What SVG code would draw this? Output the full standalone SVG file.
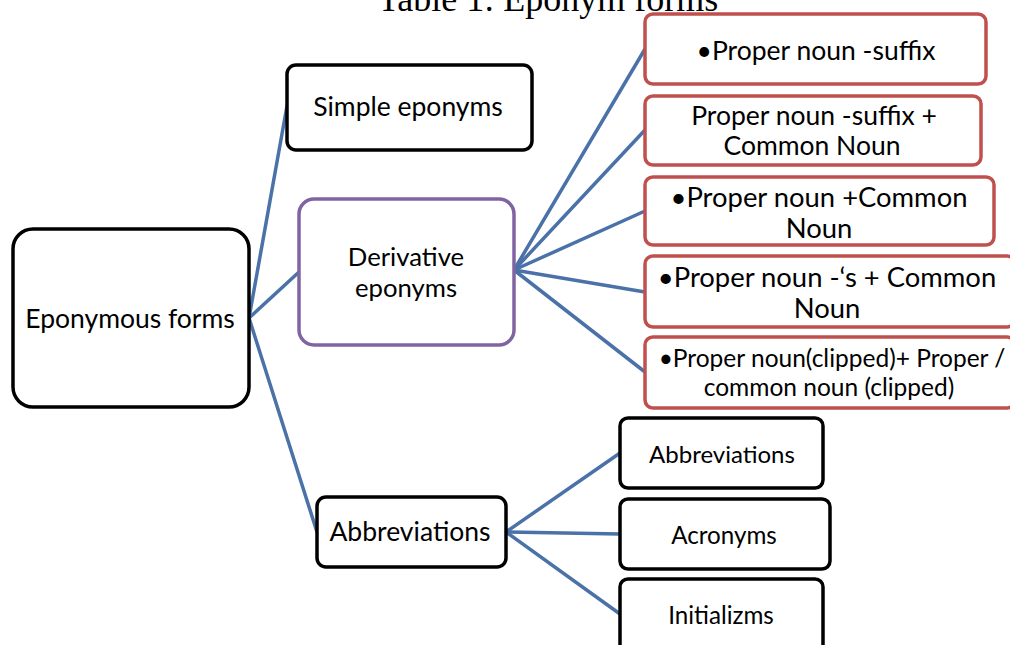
<svg xmlns="http://www.w3.org/2000/svg" width="1010" height="645" viewBox="0 0 1010 645">
<style>
.t{font-family:Lato,"Open Sans",sans-serif;fill:#000;text-anchor:middle;dominant-baseline:central}
.bk{fill:#fff;stroke:#000;stroke-width:3.5}
.rd{fill:#fff;stroke:#c0504d;stroke-width:3.5}
.pu{fill:#fff;stroke:#8064a2;stroke-width:3.5}
.ln{stroke:#4a72a8;stroke-width:3.5;fill:none;stroke-linecap:round}
</style>
<rect width="1010" height="645" fill="#fff"/>
<text x="548" y="11" style="font-family:'Liberation Serif',serif;font-size:36px;text-anchor:middle">Table 1: Eponym forms</text>
<g id="connectors">
<line class="ln" x1="249" y1="318" x2="287" y2="106"/>
<line class="ln" x1="249" y1="318" x2="299" y2="272"/>
<line class="ln" x1="249" y1="318" x2="317" y2="532"/>
<line class="ln" x1="514" y1="270" x2="645" y2="49"/>
<line class="ln" x1="514" y1="270" x2="645" y2="130"/>
<line class="ln" x1="514" y1="270" x2="645" y2="211"/>
<line class="ln" x1="514" y1="270" x2="645" y2="292"/>
<line class="ln" x1="514" y1="270" x2="645" y2="372"/>
<line class="ln" x1="506" y1="532" x2="620" y2="453"/>
<line class="ln" x1="506" y1="532" x2="620" y2="534"/>
<line class="ln" x1="506" y1="532" x2="620" y2="614"/>
</g>
<g id="eponymous">
<rect class="bk" x="13" y="229" width="236" height="178" rx="20"/>
<text class="t" x="130" y="318" style="font-size:26.5px">Eponymous forms</text>
</g>
<g id="simple">
<rect class="bk" x="287" y="65" width="245" height="85" rx="9"/>
<text class="t" x="408" y="106" style="font-size:26.5px">Simple eponyms</text>
</g>
<g id="derivative">
<rect class="pu" x="299" y="199" width="215" height="146" rx="15"/>
<text class="t" x="406" y="256" style="font-size:25.7px">Derivative</text>
<text class="t" x="406" y="287" style="font-size:25.7px">eponyms</text>
</g>
<g id="abbrev">
<rect class="bk" x="317" y="497" width="189" height="70" rx="9"/>
<text class="t" x="410" y="531" style="font-size:26.5px">Abbreviations</text>
</g>
<g id="d1">
<rect class="rd" x="645" y="14" width="341" height="70" rx="8"/>
<text class="t" x="816" y="50" style="font-size:26.5px">•Proper noun -suffix</text>
</g>
<g id="d2">
<rect class="rd" x="645" y="96" width="336" height="69" rx="8"/>
<text class="t" x="814" y="115" style="font-size:26.5px">Proper noun -suffix +</text>
<text class="t" x="812" y="145" style="font-size:26.5px">Common Noun</text>
</g>
<g id="d3">
<rect class="rd" x="645" y="177" width="349" height="68" rx="8"/>
<text class="t" x="819" y="196" style="font-size:27.4px">•Proper noun +Common</text>
<text class="t" x="819" y="227" style="font-size:27.4px">Noun</text>
</g>
<g id="d4">
<rect class="rd" x="645" y="256" width="370" height="71" rx="8"/>
<text class="t" x="827" y="276" style="font-size:27.4px">•Proper noun -‘s + Common</text>
<text class="t" x="827" y="307" style="font-size:27.4px">Noun</text>
</g>
<g id="d5">
<rect class="rd" x="645" y="337" width="370" height="71" rx="8"/>
<text class="t" x="832" y="357" style="font-size:24.5px">•Proper noun(clipped)+ Proper /</text>
<text class="t" x="829" y="386" style="font-size:24.5px">common noun (clipped)</text>
</g>
<g id="a1">
<rect class="bk" x="620" y="418" width="203" height="70" rx="8"/>
<text class="t" x="722" y="453" style="font-size:24px">Abbreviations</text>
</g>
<g id="a2">
<rect class="bk" x="620" y="499" width="210" height="70" rx="8"/>
<text class="t" x="724" y="534" style="font-size:24.2px">Acronyms</text>
</g>
<g id="a3">
<rect class="bk" x="620" y="579" width="203" height="80" rx="8"/>
<text class="t" x="721" y="614" style="font-size:24.2px">Initializms</text>
</g>
</svg>
